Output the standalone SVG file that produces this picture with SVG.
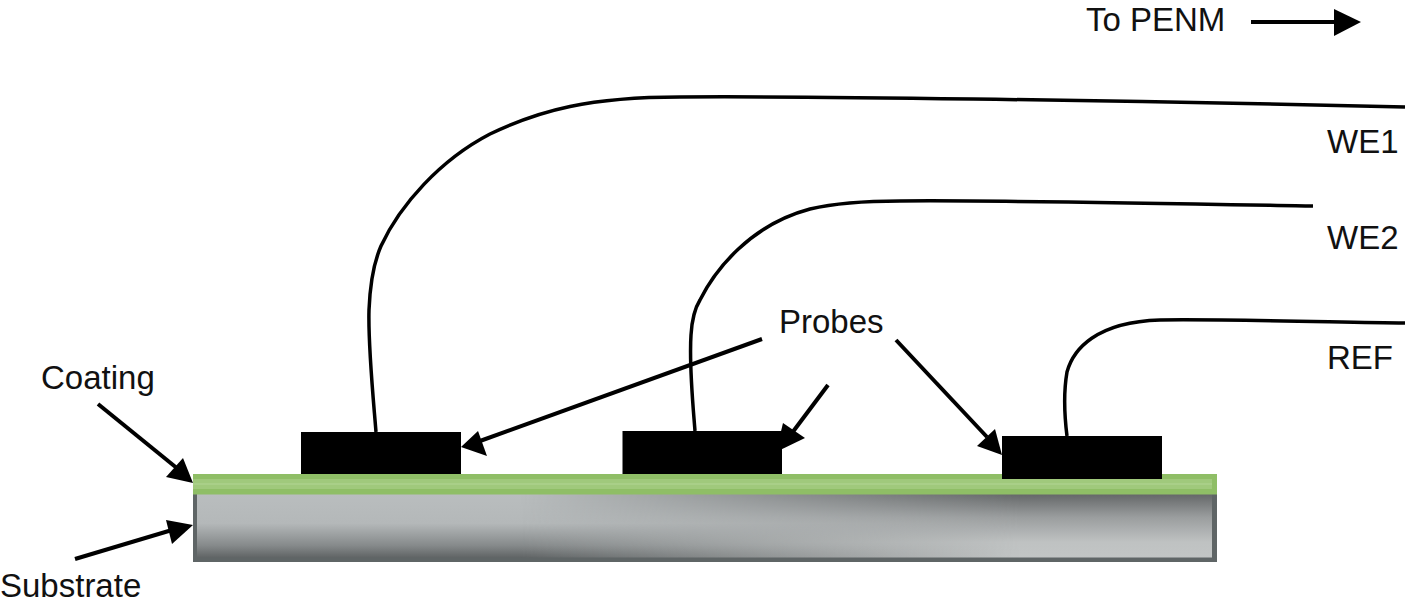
<svg xmlns="http://www.w3.org/2000/svg" width="1408" height="604" viewBox="0 0 1408 604">
<style>
text{font-family:"Liberation Sans",Arial,sans-serif;font-size:33px;fill:#111}
.wire{fill:none;stroke:#000;stroke-width:3.500}
.arrow{fill:none;stroke:#000;stroke-width:4}
.head{fill:#000}
.probe{fill:#000}
</style>
<defs>
<linearGradient id="subL" gradientUnits="userSpaceOnUse" x1="0" y1="495" x2="0" y2="558">
<stop offset="0" stop-color="#b9bdbe"/><stop offset=".45" stop-color="#b4b8b9"/><stop offset=".8" stop-color="#868a8b"/><stop offset="1" stop-color="#5f6364"/>
</linearGradient>
<linearGradient id="subR" gradientUnits="userSpaceOnUse" x1="0" y1="495" x2="0" y2="558">
<stop offset="0" stop-color="#66696a"/><stop offset=".35" stop-color="#9a9d9e"/><stop offset=".75" stop-color="#bfc2c2"/><stop offset="1" stop-color="#c2c5c5"/>
</linearGradient>
<linearGradient id="fade" gradientUnits="userSpaceOnUse" x1="520" y1="0" x2="1020" y2="0">
<stop offset="0" stop-color="#000"/><stop offset="1" stop-color="#fff"/>
</linearGradient>
<mask id="m"><rect x="193" y="494" width="1024" height="68" fill="url(#fade)"/></mask>
</defs>
<g id="substrate">
<rect x="193" y="494" width="1024" height="68" fill="#5f6566"/>
<rect x="197" y="494" width="1015" height="63.500" fill="url(#subL)"/>
<rect x="197" y="494" width="1015" height="63.500" fill="url(#subR)" mask="url(#m)"/>
</g>
<g id="coating">
<rect x="193" y="474" width="1024" height="20.500" fill="#8fbe66"/>
<rect x="193" y="479" width="1019" height="10" fill="#a0c97c"/>
<rect x="193" y="483" width="1019" height="2" fill="#a9cf88"/>
</g>
<g id="probe1"><rect class="probe" x="301" y="432" width="160" height="42"/></g>
<g id="probe2"><rect class="probe" x="622.500" y="431" width="159.500" height="43"/></g>
<g id="probe3"><rect class="probe" x="1002" y="436" width="160" height="43"/></g>
<g id="connectors">
<path class="wire" d="M376 432C373 395 368 345 369 310C370 285 374 262 381 246C400 205 440 160 490 134C540 110 590 97 680 97C800 96 1100 100 1405 107"/>
<path class="wire" d="M695 431C693 405 689 365 691 335C692 318 695 308 700 300C715 270 750 225 810 209C840 202 870 201 900 201C1000 200 1200 204 1313 206"/>
<path class="wire" d="M1067 436C1065 420 1063 395 1067 372C1073 350 1095 322 1160 320C1220 319 1330 322 1405 323"/>
<path class="arrow" d="M1251 22H1336"/>
<polygon class="head" points="1334,9 1361,22 1334,36"/>
<path class="arrow" d="M762 339L480 441"/>
<polygon class="head" points="461,447 478,431 487,456"/>
<path class="arrow" d="M828 385L792 433"/>
<polygon class="head" points="776,452 783,423 805,438"/>
<path class="arrow" d="M896 340L987 437"/>
<polygon class="head" points="1002,455 977,446 995,429"/>
<path class="arrow" d="M98 404L178 469"/>
<polygon class="head" points="193,483 166,477 183,458"/>
<path class="arrow" d="M75 559L172 530"/>
<polygon class="head" points="193,525 166,520 172,544"/>
</g>
<g id="labels">
<text x="1086" y="31">To PENM</text>
<text x="1327" y="153">WE1</text>
<text x="1327" y="249">WE2</text>
<text x="1327" y="369">REF</text>
<text x="779" y="333">Probes</text>
<text x="41" y="389">Coating</text>
<text x="0" y="597">Substrate</text>
</g>
</svg>
